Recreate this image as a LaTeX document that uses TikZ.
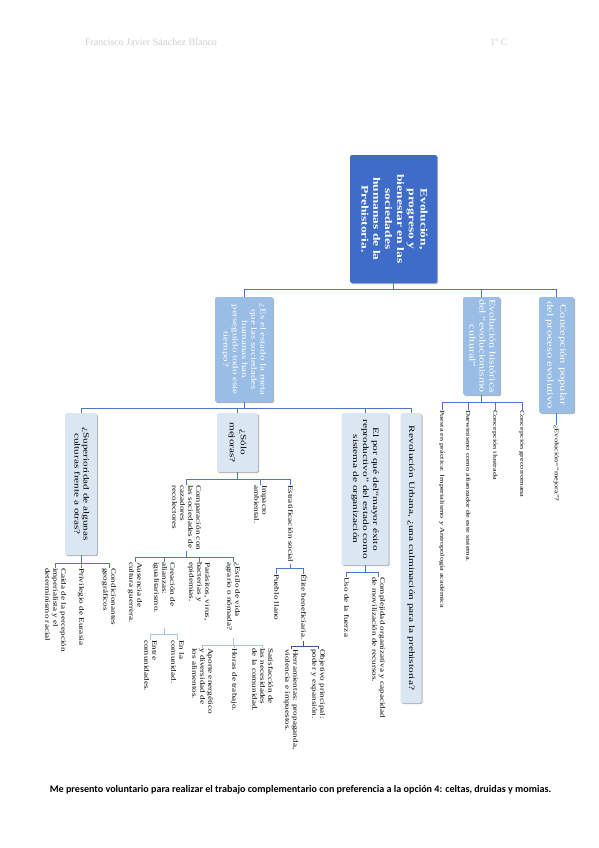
\documentclass[tikz,border=0pt]{standalone}
\usepackage{fontspec}
\setmainfont{Liberation Serif}
\newfontfamily\footfont{Carlito}
\usepackage{graphicx}
\usetikzlibrary{shadows}
\definecolor{rootblue}{HTML}{3E6CC8}
\definecolor{midblue}{HTML}{9ABDE5}
\definecolor{paleblue}{HTML}{DBE6F3}
\definecolor{linkblue}{HTML}{4A77C6}
\definecolor{lightlink}{HTML}{A8C3EA}
\definecolor{darklink}{HTML}{34558E}
\definecolor{headgray}{HTML}{CFCFCF}
% rotated (top-to-bottom) text, stretched along its lines
\newcommand{\rtc}[5][]{\rotatebox{-90}{\scalebox{#2}[1]{\fontsize{#3}{#4}\selectfont#1\begin{tabular}{@{}c@{}}#5\end{tabular}}}}
\newcommand{\rtl}[5][]{\rotatebox{-90}{\scalebox{#2}[1]{\fontsize{#3}{#4}\selectfont#1\begin{tabular}{@{}l@{}}#5\end{tabular}}}}
\newcommand{\leafA}[1]{\rtl{1.35}{6.8}{8}{#1}}
\newcommand{\leafB}[1]{\rtl{1.4}{5.9}{8}{#1}}
\begin{document}
\begin{tikzpicture}[x=1pt,y=-1pt,
  boxshadow/.style={drop shadow={shadow xshift=1pt,shadow yshift=-1pt,opacity=0.3,fill=black}},
  rootbox/.style={fill=rootblue,text=white,inner sep=0pt,rounded corners=1.5pt,boxshadow},
  lvlone/.style={fill=midblue,text=white,inner sep=0pt,rounded corners=1.5pt,boxshadow},
  lvltwo/.style={fill=paleblue,text=black,inner sep=0pt,rounded corners=1.5pt,boxshadow},
  leaf/.style={inner sep=0pt,anchor=north},
  conn/.style={draw=linkblue,line width=0.8pt},
  connlight/.style={draw=lightlink,line width=0.8pt},
  conndark/.style={draw=darklink,line width=0.9pt}]
\useasboundingbox (0,0) rectangle (599,848);
\fill[white] (0,0) rectangle (599,848);

% header and footer
\node[text=headgray,font=\fontsize{10}{12}\selectfont] (hdr) at (151,42) {Francisco Javier Sánchez Blanco};
\node[text=headgray,font=\fontsize{10}{12}\selectfont] (hdrb) at (499,42) {1º C};
\node[font=\footfont\bfseries\fontsize{10.1}{12}\selectfont] (ftr) at (300.5,790) {Me presento voluntario para realizar el trabajo complementario con preferencia a la opción 4: celtas, druidas y momias.};

% root
\node[rootbox,minimum width=87pt,minimum height=128pt] (root) at (393.5,219)
  {\rtc[\bfseries]{1.35}{10}{11.8}{Evolución,\\progreso y\\bienestar en las\\sociedades\\humanas de la\\Prehistoria.}};

% level one
\node[lvlone,minimum width=58pt,minimum height=105pt] (A) at (244,349.5)
  {\rtc{1.4}{7.8}{9.3}{¿Es el estado la meta\\que las sociedades\\humanas han\\perseguido todo este\\tiempo?}};
\node[lvlone,minimum width=37pt,minimum height=98pt] (B) at (481.5,346)
  {\rtc{1.4}{8.6}{10}{Evolución histórica\\del “evolucionismo\\cultural”}};
\node[lvlone,minimum width=35pt,minimum height=116pt] (C) at (556.5,355)
  {\rtc{1.4}{8.9}{13}{Concepción popular\\del proceso evolutivo}};

% level two (under A)
\node[lvltwo,minimum width=32pt,minimum height=142pt] (S) at (81,484)
  {\rtc{1.4}{8}{9}{¿Superioridad de algunas\\culturas frente a otras?}};
\node[lvltwo,minimum width=41pt,minimum height=59pt] (M) at (237.5,442.5)
  {\rtc{1.4}{8}{11}{¿Sólo\\mejoras?}};
\node[lvltwo,minimum width=47pt,minimum height=152pt] (P) at (365,489)
  {\rtc{1.4}{8.1}{10}{El por qué del“mayor éxito\\reproductivo” del estado como\\sistema de organización}};
\node[lvltwo,minimum width=21pt,minimum height=290pt] (R) at (411,558)
  {\rtc{1.4}{8.1}{10}{Revolución Urbana, ¿una culminación para la prehistoria?}};

% leaves of B and C
\node[leaf] (B1) at (442,410) {\leafB{Puesta en práctica: Imperialismo y Antropología académica}};
\node[leaf] (B2) at (468,410) {\leafB{Darwinismo como afianzador de este sistema.}};
\node[leaf] (B3) at (495,410) {\leafB{Concepción ilustrada}};
\node[leaf] (B4) at (522,410) {\leafB{Concepción grecorromana}};
\node[leaf] (C1) at (556.5,425) {\leafB{¿Evolución=“mejora”?}};

% leaves of S
\node[leaf] (Cai) at (55,568) {\leafA{Caída de la percepción\\imperialista y el\\determinismo racial}};
\node[leaf] (Pri) at (81,568) {\leafA{Privilegio de Eurasia}};
\node[leaf] (Con) at (109,568) {\leafA{Condicionantes\\geográficos}};

% leaves of M
\node[leaf] (Comp) at (186,485) {\leafA{Comparación con\\las sociedades de\\cazadores\\recolectores}};
\node[leaf] (Imp) at (260,485) {\leafA{Impacto\\ambiental.}};
\node[leaf] (Estr) at (290,485) {\leafA{Estratificación social}};

\node[leaf] (Aus) at (135,562) {\leafA{Ausencia de\\cultura guerrera.}};
\node[leaf] (Cre) at (164,562) {\leafA{Creación de\\alianzas:\\igualitarismo.}};
\node[leaf] (Par) at (199,562) {\leafA{Parásitos, virus,\\bacterias y\\epidemias.}};
\node[leaf] (Est) at (233,562) {\leafA{¿Estilo de vida\\agrario o nómada?}};

\node[leaf] (Ent) at (150,640) {\leafA{Entre\\comunidades.}};
\node[leaf] (EnL) at (177,640) {\leafA{En la\\comunidad.}};

\node[leaf] (Apo) at (202,648) {\leafA{Aporte energético\\y diversidad de\\los alimentos.}};
\node[leaf] (Hor) at (234,648) {\leafA{Horas de trabajo.}};
\node[leaf] (Sat) at (262,648) {\leafA{Satisfacción de\\las necesidades\\de la comunidad.}};

\node[leaf] (Pue) at (276,574) {\leafA{Pueblo llano}};
\node[leaf] (Eli) at (303,574) {\leafA{Élite beneficiaria.}};
\node[leaf] (Her) at (291,649) {\leafA{Herramientas: propaganda,\\violencia e impuestos.}};
\node[leaf] (Obj) at (318,649) {\leafA{Objetivo principal:\\poder y expansión.}};

% leaves of P
\node[leaf] (Uso) at (346,577) {\leafA{Uso de la fuerza}};
\node[leaf] (Cpl) at (378,577) {\leafA{Complejidad organizativa y capacidad\\de movilización de recursos.}};

% connectors
\foreach \c in {A,B,C} \draw[conn] (root.south) -- ++(0,6) -| (\c.north);
\foreach \c in {S,M,P,R} \draw[conn] (A.south) -- ++(0,6) -| (\c.north);
\foreach \c in {B1,B2,B3,B4} \draw[conn] (B.south) -- ++(0,7) -| (\c.north);
\draw[conn] (C.south) -- (C1.north);
\foreach \c in {Cai,Pri,Con} \draw[conn] (S.south) -- ++(0,8) -| (\c.north);
\foreach \c in {Comp,Imp,Estr} \draw[conn] (M.south) -- ++(0,7) -| (\c.north);
\foreach \c in {Uso,Cpl} \draw[conn] (P.south) -- ++(0,7) -| (\c.north);
\foreach \c in {Aus,Cre,Par,Est} \draw[conn] (Comp.north |- 0,551) -- ++(0,6) -| (\c.north);
\foreach \c in {Ent,EnL} \draw[connlight] (Cre.north |- 0,628) -- ++(0,6) -| (\c.north);
\foreach \c in {Apo,Hor,Sat} \draw[connlight] (Est.north |- 0,638) -- ++(0,7) -| (\c.north);
\foreach \c in {Pue,Eli} \draw[conn] (Estr.north |- 0,564) -- ++(0,4) -| (\c.north);
\foreach \c in {Her,Obj} \draw[conndark] (Eli.north |- 0,641) -- ++(0,5) -| (\c.north);
\end{tikzpicture}
\end{document}
